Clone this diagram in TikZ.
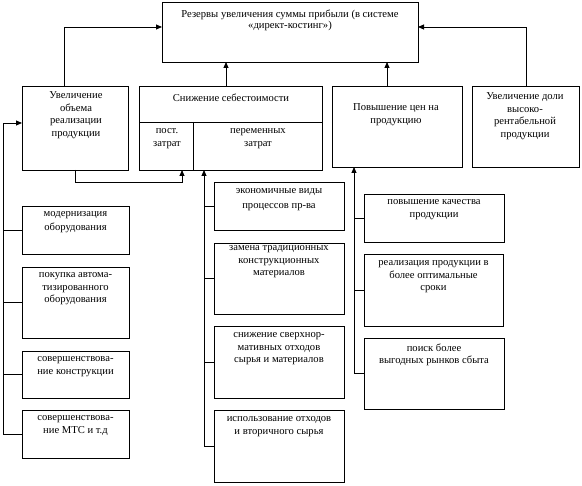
\documentclass[tikz,border=0pt]{standalone}
\usepackage{fontspec}
\setmainfont{Liberation Serif}
\usetikzlibrary{arrows.meta}
\newcommand\mybox[5]{\node[box, minimum width={#4-#2}, minimum height={#5-#3}] (#1) at ({(#2+#4)/2},{(#3+#5)/2}) {};}
\begin{document}
\begin{tikzpicture}[x=1pt,y=-1pt,
  box/.style={draw, line width=0.9pt, inner sep=0pt, outer sep=0pt},
  txt/.style={inner sep=0pt, anchor=north, align=center, font=\fontsize{10.6}{12.5}\selectfont, execute at begin node={\strut}},
  ln/.style={line width=0.9pt},
  arr/.style={line width=0.9pt, -{Triangle[length=6pt,width=5pt]}}]
\useasboundingbox[fill=white] (0,0) rectangle (582,486);
% boxes
\mybox{top}{162}{2}{418}{62}
\mybox{inc}{22}{86}{128}{170}
\mybox{snizh}{139}{86}{322}{170}
\mybox{povysh}{332}{86}{462}{167}
\mybox{dolya}{472}{86}{579}{167}
\mybox{mod}{22}{206}{129}{254}
\mybox{pok}{22}{267}{129}{338}
\mybox{sovk}{22}{351}{129}{398}
\mybox{sovm}{22}{410}{129}{458}
\mybox{econ}{214}{182}{344}{230}
\mybox{zam}{214}{243}{344}{314}
\mybox{sniz}{214}{326}{344}{398}
\mybox{isp}{214}{410}{344}{482}
\mybox{kach}{364}{194}{504}{242}
\mybox{real}{364}{254}{503}{326}
\mybox{poisk}{364}{338}{504}{409}
% dividers inside snizh
\draw[ln] (snizh.west |- 0,122) -- (snizh.east |- 0,122);
\draw[ln] (193,122) -- (snizh.south -| 193,0);
% texts
\node[txt, font=\fontsize{10.6}{11}\selectfont] (ttop) at (290,9.6) {Резервы увеличения суммы прибыли (в системе\\«директ-костинг»)};
\node[txt] (tinc) at (76,91.5) {Увеличение\\объема\\реализации\\продукции};
\node[txt] (tsn) at (231,92.5) {Снижение себестоимости};
\node[txt] (tpost) at (167,128.5) {пост.\\затрат};
\node[txt] (tper) at (258,128.5) {переменных\\затрат};
\node[txt] (tpov) at (396,103.5) {Повышение цен на\\продукцию};
\node[txt] (tdol) at (525,92.5) {Увеличение доли\\высоко-\\рентабельной\\продукции};
\node[txt] (tmod) at (75.5,211.5) {модернизация\\[1pt]оборудования};
\node[txt] (tpok) at (75.5,272.5) {покупка автома-\\тизированного\\оборудования};
\node[txt] (tsovk) at (75.5,356.5) {совершенствова-\\ние конструкции};
\node[txt] (tsovm) at (75.5,415.5) {совершенствова-\\ние МТС и т.д};
\node[txt] (tecon) at (279,188.5) {экономичные виды\\[2.5pt]процессов пр-ва};
\node[txt] (tzam) at (279,245.5) {замена традиционных\\конструкционных\\материалов};
\node[txt] (tsniz) at (279,332.5) {снижение сверхнор-\\мативных отходов\\сырья и материалов};
\node[txt] (tisp) at (279,416.5) {использование отходов\\и вторичного сырья};
\node[txt] (tkach) at (434,199.5) {повышение качества\\продукции};
\node[txt] (treal) at (433.5,260.5) {реализация продукции в\\более оптимальные\\сроки};
\node[txt] (tpoisk) at (434,343.5) {поиск более\\выгодных рынков сбыта};
% connectors to top
\draw[arr] (inc.north -| 64,0) |- (top.west |- 0,27);
\draw[arr] (dolya.north -| 526,0) |- (top.east |- 0,27);
\draw[arr] (snizh.north -| 226,0) -- (top.south -| 226,0);
\draw[arr] (povysh.north -| 387,0) -- (top.south -| 387,0);
% inc -> snizh
\draw[arr] (inc.south) -- (inc.south |- 0,182) -| (snizh.south -| 182,0);
% left column
\coordinate (lbot) at (sovm.west -| 3,0);
\draw[arr] (lbot) -- (3,123) -- (inc.west |- 0,123);
\foreach \b in {mod,pok,sovk,sovm} \draw[ln] (\b.west) -- (\b.west -| lbot);
% middle column
\coordinate (mbot) at (isp.west -| 204,0);
\draw[arr] (mbot) -- (snizh.south -| mbot);
\foreach \b in {econ,zam,sniz,isp} \draw[ln] (\b.west) -- (\b.west -| mbot);
% right column
\coordinate (rbot) at (poisk.west -| 354,0);
\draw[arr] (rbot) -- (povysh.south -| rbot);
\foreach \b in {kach,real,poisk} \draw[ln] (\b.west) -- (\b.west -| rbot);
\end{tikzpicture}
\end{document}
